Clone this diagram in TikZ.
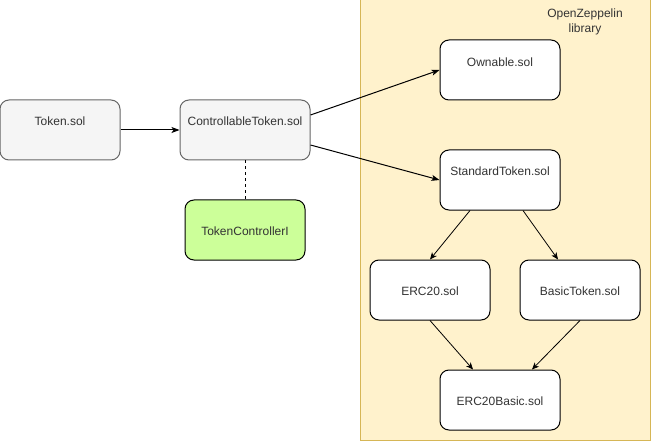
\documentclass[tikz,border=0pt]{standalone}
\usepackage{fontspec}
\setmainfont{Liberation Sans}
\usetikzlibrary{arrows.meta}
\definecolor{libfill}{HTML}{FFF2CC}
\definecolor{libdraw}{HTML}{D6B656}
\definecolor{grayfill}{HTML}{F5F5F5}
\definecolor{graydraw}{HTML}{666666}
\definecolor{greenfill}{HTML}{CCFF99}
\definecolor{txtcol}{HTML}{333333}
\begin{document}
\begin{tikzpicture}[x=1pt,y=-1pt,
  every node/.style={font=\fontsize{12}{14}\selectfont, text=txtcol},
  box/.style={draw, rounded corners=9pt, line width=1pt, minimum width=120pt, minimum height=60pt, inner sep=0pt, fill=white},
  graybox/.style={box, fill=grayfill, draw=graydraw},
  greenbox/.style={box, fill=greenfill, draw=black},
  arr/.style={draw=black, line width=1pt, -{Stealth[length=8pt,width=6pt,inset=2pt]}},
  thinarr/.style={draw=black, line width=0.8pt, -{Stealth[length=7pt,width=6pt,inset=2pt]}},
  lab/.style={inner sep=0pt}
]
\useasboundingbox[fill=white] (0,0) rectangle (651,441);
\node[draw=libdraw, fill=libfill, line width=1pt, minimum width=290pt, minimum height=440pt, inner sep=0pt] (lib) at (505,220) {};
\node[lab, align=center, font=\fontsize{12}{15}\selectfont] (libtxt) at (585,22) {OpenZeppelin\\library};

\node[graybox] (tok) at (60,130) {};
\node[lab] (tokL) at (60,121) {Token.sol};
\node[graybox, minimum width=130pt] (ctl) at (245,130) {};
\node[lab] (ctlL) at (245,121) {ControllableToken.sol};
\node[greenbox] (tc) at (245,230) {};
\node[lab] (tcL) at (245,231) {TokenControllerI};

\node[box] (own) at (500,70) {};
\node[lab] (ownL) at (500,62) {Ownable.sol};
\node[box] (std) at (500,180) {};
\node[lab] (stdL) at (500,171) {StandardToken.sol};
\node[box] (erc) at (430,290) {};
\node[lab] (ercL) at (430,291) {ERC20.sol};
\node[box] (bas) at (580,290) {};
\node[lab] (basL) at (580,291) {BasicToken.sol};
\node[box] (eb) at (500,400) {};
\node[lab] (ebL) at (500,401) {ERC20Basic.sol};

\draw[arr] (tok.east) -- (ctl.west);
\draw[arr] ([yshift=15pt]ctl.east) -- (own.west);
\draw[arr] ([yshift=-15pt]ctl.east) -- (std.west);
\draw[line width=1pt, dashed, dash pattern=on 3pt off 3pt] (ctl.south) -- (tc.north);
\draw[thinarr] ([xshift=-30pt]std.south) -- (erc.north);
\draw[thinarr] ([xshift=23pt]std.south) -- ([xshift=-22pt]bas.north);
\draw[thinarr] (erc.south) -- ([xshift=-27pt]eb.north);
\draw[thinarr] (bas.south) -- ([xshift=32pt]eb.north);
\end{tikzpicture}
\end{document}
